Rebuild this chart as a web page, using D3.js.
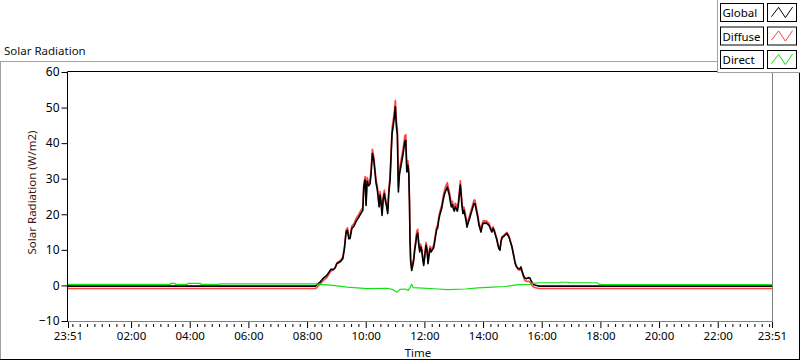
<!DOCTYPE html>
<html><head><meta charset="utf-8">
<script src="https://cdn.jsdelivr.net/npm/d3@7"></script>
<style>
body{margin:0;background:#fff}
svg{display:block}
text{font-family:"Noto Sans",sans-serif;}
</style>
</head><body>
<svg id="chart" width="800" height="361"></svg>
<script>
// ---------------- DATA ----------------
const chartTitle = "Solar Radiation";
const yAxisTitle = "Solar Radiation (W/m2)";
const xAxisTitle = "Time";
const seriesNames = ["Global", "Diffuse", "Direct"];
const seriesColors = ["#000000", "#ff4040", "#14e014"];

const yTicks = [-10, 0, 10, 20, 30, 40, 50, 60];
// x values are minutes after 00:00 (23:51 of the previous day = -9)
const xMajorMinutes = [-9, 120, 240, 360, 480, 600, 720, 840, 960, 1080, 1200, 1320, 1431];
const xMajorLabels = ["23:51", "02:00", "04:00", "06:00", "08:00", "10:00", "12:00", "14:00", "16:00", "18:00", "20:00", "22:00", "23:51"];

const globalMinutes = [-9, 490, 497, 500, 506.7, 513.5, 520.4, 528.6, 533.9, 537.4, 540.8, 549, 553.1, 556.4, 559.9, 562.6, 565.4, 568, 571.5, 576.2, 580.3, 585, 589.9, 594, 596, 598.7, 600.7, 602.8, 606.2, 608.9, 611, 613.6, 616.4, 618.5, 621.2, 623.2, 625.3, 627.3, 629.4, 631.4, 633.4, 635.5, 638.1, 640.2, 642.2, 645, 647.1, 649.8, 651.8, 653.9, 656.5, 658.6, 660.6, 662.7, 664.7, 666.8, 668.8, 671.7, 674.3, 677, 679.9, 681.9, 684, 686, 688, 689.5, 690.5, 691.8, 694, 696.1, 698.1, 700.2, 702.2, 704.2, 706.3, 708.3, 710.4, 712.4, 714.5, 716.5, 718.6, 721.3, 723.3, 725.4, 727.4, 729.5, 731.5, 733.5, 736.3, 739, 741, 743.1, 745.1, 747.2, 749.2, 751.3, 753.3, 755.3, 757.4, 759.4, 761.5, 763.5, 765.6, 766.9, 769, 771, 773.1, 775.1, 777.1, 779.2, 781.2, 783.3, 785.3, 787.4, 789.4, 791.5, 793.5, 794.9, 796.9, 798.9, 801, 803, 805.1, 807.1, 809.2, 811.2, 813.3, 815.3, 817.3, 819.4, 821.4, 823.5, 825.5, 827.6, 829.6, 831.6, 833.7, 835.7, 837.8, 839.8, 841.9, 843.9, 846.6, 849.4, 852.1, 854.1, 856.2, 858.2, 860.3, 862.3, 864.3, 866.4, 868.4, 870.5, 872.5, 874.6, 876.6, 878.7, 880.7, 883.4, 886.2, 888.9, 890.9, 893, 895, 897.1, 899.1, 901.1, 903.2, 905.2, 907.3, 909.3, 912, 915.4, 917.5, 919.5, 921.6, 923.6, 925.7, 929.1, 932.5, 935.9, 937.9, 940.7, 944.1, 949.5, 955, 1431];

const globalValues = [-0.2, -0.2, -0.2, 0.2, 0.94, 2.07, 2.82, 4.5, 4.5, 4.9, 6.1, 6.8, 7.5, 10.3, 15.0, 15.5, 13.1, 13.2, 16.0, 16.7, 18.0, 19.0, 20.2, 21.1, 27.7, 29.6, 22.5, 29.3, 28.0, 28.6, 31.5, 37.1, 35.2, 32.4, 28.6, 27.4, 24.9, 22.1, 25.4, 23.0, 19.7, 23.9, 25.8, 23.7, 22.5, 20.2, 25.8, 29.6, 36.1, 42.7, 45.1, 47.4, 50.2, 44.6, 42.3, 26.3, 31.0, 33.3, 35.2, 37.5, 40.4, 40.8, 31.9, 33.8, 31.5, 23.0, 13.0, 7.0, 4.2, 5.6, 7.0, 9.9, 11.7, 14.1, 14.7, 11.7, 9.4, 10.8, 9.9, 7.5, 5.6, 8.9, 11.3, 9.9, 6.1, 8.5, 10.3, 9.4, 10.0, 10.6, 12.2, 14.1, 15.7, 16.2, 18.3, 19.7, 20.7, 21.6, 23.2, 24.7, 25.8, 26.6, 27.2, 27.7, 26.3, 25.4, 23.5, 22.1, 22.7, 21.6, 20.9, 22.1, 21.6, 20.9, 22.5, 25.4, 28.2, 26.0, 22.3, 20.2, 21.1, 19.7, 18.3, 16.4, 17.4, 18.3, 19.2, 20.2, 21.1, 22.1, 23.0, 23.0, 21.6, 20.2, 18.8, 16.9, 16.0, 15.0, 16.4, 17.4, 17.6, 17.4, 17.6, 17.2, 16.9, 16.2, 15.5, 15.0, 16.0, 15.5, 14.6, 13.6, 12.7, 11.3, 10.3, 9.9, 12.2, 13.4, 13.6, 13.9, 14.3, 14.6, 14.1, 13.6, 12.7, 11.7, 10.8, 9.4, 8.0, 6.6, 5.6, 5.2, 4.7, 4.7, 5.2, 4.2, 3.3, 2.5, 2.1, 1.9, 2.2, 2.1, 1.4, 0.7, 0.2, 0.0, -0.2, -0.2];

const diffuseValues = [-0.85, -0.85, -0.85, -0.6, 0.4, 1.4, 2.2, 4.0, 4.4, 5.0, 6.3, 7.2, 8.0, 10.8, 15.6, 16.2, 13.7, 13.9, 16.7, 17.4, 18.8, 19.8, 21.0, 21.9, 28.6, 30.6, 23.4, 30.3, 28.9, 29.6, 32.6, 38.3, 36.3, 33.4, 29.6, 28.4, 25.8, 23.0, 26.4, 24.0, 20.6, 24.9, 26.8, 24.7, 23.4, 21.1, 26.9, 30.8, 37.6, 44.2, 46.7, 49.1, 52.0, 46.3, 44.1, 27.8, 32.5, 34.9, 36.8, 39.1, 42.0, 42.4, 33.2, 35.1, 32.8, 24.2, 13.8, 7.6, 4.8, 6.2, 7.7, 10.6, 12.5, 15.2, 15.8, 12.5, 10.1, 11.6, 10.6, 8.1, 6.2, 9.6, 12.1, 10.6, 6.7, 9.2, 11.0, 10.1, 10.7, 11.3, 13.0, 14.9, 16.6, 17.0, 19.1, 20.6, 21.6, 22.5, 24.1, 25.7, 26.9, 27.8, 28.5, 28.9, 27.4, 26.5, 24.5, 23.1, 23.7, 22.6, 21.9, 23.1, 22.6, 21.9, 23.5, 26.5, 29.4, 27.1, 23.3, 21.1, 22.0, 20.6, 19.2, 17.2, 18.2, 19.1, 20.1, 21.1, 22.0, 23.0, 24.0, 24.0, 22.5, 21.0, 19.6, 17.6, 16.7, 15.6, 17.1, 18.1, 18.3, 18.0, 18.2, 17.8, 17.5, 16.8, 16.0, 15.5, 16.5, 16.0, 15.0, 14.0, 13.1, 11.6, 10.6, 10.1, 12.5, 13.7, 13.9, 14.2, 14.6, 14.9, 14.4, 13.9, 12.9, 11.9, 11.0, 9.6, 8.1, 6.6, 5.5, 5.0, 4.4, 4.3, 4.8, 3.8, 2.8, 2.0, 1.4, 1.1, 1.2, 1.0, 0.4, -0.1, -0.5, -0.7, -0.85, -0.85];

const directMinutes = [-9, 200, 201, 210, 211, 235, 236, 262, 263, 300, 301, 490, 497, 507, 533, 562, 603, 644, 656, 664, 670, 681, 687, 691, 694, 697, 707, 748, 768, 804, 830, 859, 885, 912, 936, 940, 956, 997, 998, 1014, 1015, 1073, 1079, 1431];
const directValues = [0.3, 0.3, 0.55, 0.55, 0.3, 0.3, 0.55, 0.55, 0.3, 0.3, 0.45, 0.45, 0.45, 0.3, 0.0, -0.5, -0.9, -0.8, -1.2, -1.9, -1.1, -1.0, -1.4, -0.5, 0.3, -0.6, -0.7, -1.0, -1.2, -1.0, -0.7, -0.5, -0.3, 0.2, 0.3, 0.6, 0.75, 0.75, 0.9, 0.9, 0.75, 0.75, 0.2, 0.2];

// ---------------- DRAW ----------------
const FONT = '"Noto Sans",sans-serif';
const FS = 11.5;
const svg = d3.select("#chart");
const W = 800, H = 361;
svg.append("rect").attr("width", W).attr("height", H).attr("fill", "#fff");

const plot = {left: 68, right: 772, top: 72, bottom: 321};
const x = d3.scaleLinear().domain([-9, 1431]).range([plot.left, plot.right]);
const y = d3.scaleLinear().domain([-10, 60]).range([plot.bottom, plot.top]);

// outer panel frame
svg.append("line").attr("x1", 0).attr("x2", 718).attr("y1", 61.5).attr("y2", 61.5).attr("stroke", "#a0a0a0");
svg.append("line").attr("x1", 0.5).attr("x2", 0.5).attr("y1", 61.5).attr("y2", 360).attr("stroke", "#a0a0a0");
svg.append("line").attr("x1", 0).attr("x2", 800).attr("y1", 359.5).attr("y2", 359.5).attr("stroke", "#000");
svg.append("line").attr("x1", 799.5).attr("x2", 799.5).attr("y1", 72).attr("y2", 360).attr("stroke", "#000");

// title
svg.append("text").attr("x", 4).attr("y", 55).attr("font-size", FS).attr("fill", "#111").text(chartTitle);

// series
svg.append("clipPath").attr("id", "clipP").append("rect")
  .attr("x", plot.left).attr("y", plot.top).attr("width", plot.right - plot.left).attr("height", plot.bottom - plot.top);
const gSeries = svg.append("g").attr("clip-path", "url(#clipP)");
const line = d3.line().x(d => x(d[0])).y(d => y(d[1]));
const series = [
  d3.zip(globalMinutes, globalValues),
  d3.zip(globalMinutes, diffuseValues),
  d3.zip(directMinutes, directValues)
];
// draw order: Diffuse, Global, Direct
[1, 0, 2].forEach(i => {
  gSeries.append("path").datum(series[i]).attr("d", line)
    .attr("fill", "none").attr("stroke", seriesColors[i])
    .attr("stroke-width", i === 0 ? 1.6 : (i === 1 ? 1.6 : 1.2))
    .attr("stroke-linejoin", "round");
});

// plot frame (LabVIEW style: dark top/left, gray bottom/right)
svg.append("line").attr("x1", plot.left).attr("x2", plot.right).attr("y1", plot.bottom + 0.5).attr("y2", plot.bottom + 0.5).attr("stroke", "#808080");
svg.append("line").attr("x1", plot.right + 0.5).attr("x2", plot.right + 0.5).attr("y1", plot.top).attr("y2", plot.bottom + 1).attr("stroke", "#808080");
svg.append("line").attr("x1", plot.left - 0.5).attr("x2", plot.right).attr("y1", plot.top - 0.5).attr("y2", plot.top - 0.5).attr("stroke", "#000");
svg.append("line").attr("x1", plot.left - 0.5).attr("x2", plot.left - 0.5).attr("y1", plot.top - 0.5).attr("y2", plot.bottom + 1).attr("stroke", "#000");

// y axis
const yAxis = d3.axisLeft(y).tickValues(yTicks).tickSize(6).tickPadding(2).tickFormat(d3.format("d"));
const gy = svg.append("g").attr("transform", `translate(${plot.left - 0.5},0)`).call(yAxis);
gy.select(".domain").remove();
gy.selectAll("line").attr("stroke", "#000");
gy.selectAll("text").attr("font-size", 12).attr("fill", "#000").attr("font-family", FONT);

// x axis minor ticks every 15 minutes
const minorTicks = d3.range(0, 1431, 15).filter(m => !xMajorMinutes.includes(m));
const xMinor = d3.axisBottom(x).tickValues(minorTicks).tickSize(3).tickFormat("");
const gxm = svg.append("g").attr("transform", `translate(0,${plot.bottom + 3})`).call(xMinor);
gxm.select(".domain").remove();
gxm.selectAll("line").attr("stroke", "#000");

const xAxis = d3.axisBottom(x).tickValues(xMajorMinutes).tickSize(6).tickPadding(4)
  .tickFormat((d, i) => xMajorLabels[i]);
const gx = svg.append("g").attr("transform", `translate(0,${plot.bottom + 1})`).call(xAxis);
gx.select(".domain").remove();
gx.selectAll("line").attr("stroke", "#000");
gx.selectAll("text").attr("font-size", FS).attr("fill", "#000").attr("font-family", FONT);

// axis titles
svg.append("text").attr("transform", `translate(36,${(plot.top + plot.bottom) / 2 - 4}) rotate(-90)`)
  .attr("text-anchor", "middle").attr("font-size", FS).attr("fill", "#3a1414").text(yAxisTitle);
svg.append("text").attr("x", 418).attr("y", 357).attr("text-anchor", "middle")
  .attr("font-size", FS).attr("fill", "#111").text(xAxisTitle);

// legend
const lg = svg.append("g");
lg.append("rect").attr("x", 717.5).attr("y", -1).attr("width", 84).attr("height", 73.5).attr("fill", "#fff").attr("stroke", "#a0a0a0");
const rowY = [3, 26.5, 50];
const swatchPts = [[0.12, 0.75], [0.38, 0.2], [0.62, 0.8], [0.88, 0.18]];
seriesNames.forEach((n, i) => {
  const ry = rowY[i];
  lg.append("rect").attr("x", 720.5).attr("y", ry + 0.5).attr("width", 43).attr("height", 18).attr("fill", "#fff").attr("stroke", "#000");
  lg.append("text").attr("x", 722.5).attr("y", ry + 14).attr("font-size", FS).attr("fill", "#000")
    .attr("textLength", n.length > 6 ? 38 : null).attr("lengthAdjust", "spacingAndGlyphs").text(n);
  lg.append("rect").attr("x", 767.5).attr("y", ry + 0.5).attr("width", 29).attr("height", 18).attr("fill", "#fff").attr("stroke", "#000");
  const sx = d3.scaleLinear().range([768, 796]);
  const sy = d3.scaleLinear().range([ry + 1, ry + 18]);
  lg.append("path").datum(swatchPts).attr("d", d3.line().x(d => sx(d[0])).y(d => sy(d[1])))
    .attr("fill", "none").attr("stroke", seriesColors[i]).attr("stroke-width", 1);
});
</script>
</body></html>
